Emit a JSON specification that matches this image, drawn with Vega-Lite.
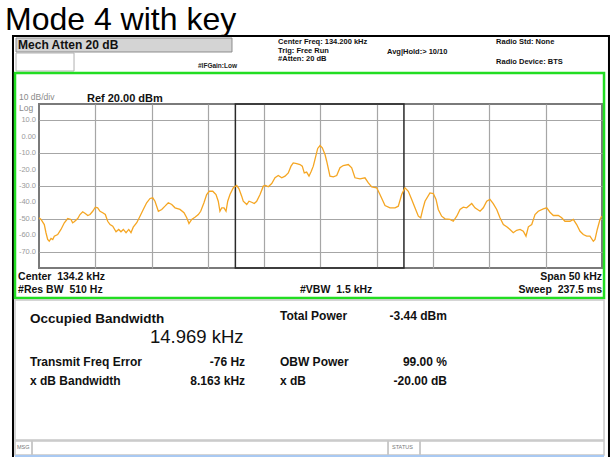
{
  "$schema": "https://vega.github.io/schema/vega-lite/v6.json",
  "width": 563,
  "height": 164,
  "autosize": {"type": "none"},
  "padding": {"left": 39, "top": 104, "right": 9, "bottom": 189},
  "background": "white",
  "config": {"view": {"stroke": "#7a7a7a", "strokeWidth": 2}, "font": "Liberation Sans"},
  "datasets": {
    "trace": [
      {"f":109.20,"v":-49.4},{"f":109.38,"v":-50.4},{"f":109.67,"v":-53.5},{"f":109.82,"v":-58.5},{"f":109.97,"v":-62.6},{"f":110.11,"v":-63.7},{"f":110.27,"v":-62.0},{"f":110.42,"v":-62.6},{"f":110.56,"v":-60.6},{"f":110.86,"v":-59.6},
      {"f":111.15,"v":-56.5},{"f":111.45,"v":-52.4},{"f":111.75,"v":-49.8},{"f":112.04,"v":-50.4},{"f":112.19,"v":-52.4},{"f":112.33,"v":-51.8},{"f":112.64,"v":-49.8},{"f":112.84,"v":-47.4},{"f":113.08,"v":-45.7},{"f":113.31,"v":-46.8},
      {"f":113.53,"v":-48.0},{"f":113.73,"v":-47.4},{"f":113.97,"v":-45.4},{"f":114.20,"v":-42.9},{"f":114.41,"v":-43.3},{"f":114.62,"v":-45.4},{"f":114.86,"v":-46.3},{"f":115.09,"v":-47.4},{"f":115.30,"v":-51.5},{"f":115.51,"v":-53.5},
      {"f":115.75,"v":-54.5},{"f":116.04,"v":-57.9},{"f":116.28,"v":-56.5},{"f":116.48,"v":-57.9},{"f":116.69,"v":-56.5},{"f":116.93,"v":-58.5},{"f":117.17,"v":-56.5},{"f":117.37,"v":-58.5},{"f":117.57,"v":-55.1},{"f":117.88,"v":-52.4},
      {"f":118.17,"v":-48.4},{"f":118.46,"v":-44.3},{"f":118.76,"v":-40.2},{"f":119.06,"v":-37.6},{"f":119.30,"v":-37.2},{"f":119.50,"v":-39.3},{"f":119.80,"v":-45.4},{"f":120.10,"v":-44.3},{"f":120.39,"v":-42.3},{"f":120.68,"v":-40.2},
      {"f":120.99,"v":-41.3},{"f":121.28,"v":-43.3},{"f":121.72,"v":-44.3},{"f":122.08,"v":-46.3},{"f":122.32,"v":-49.4},{"f":122.52,"v":-52.9},{"f":122.76,"v":-50.4},{"f":123.05,"v":-49.0},{"f":123.35,"v":-47.4},{"f":123.56,"v":-45.4},
      {"f":123.85,"v":-40.2},{"f":124.09,"v":-35.2},{"f":124.32,"v":-33.2},{"f":124.63,"v":-33.2},{"f":124.92,"v":-35.2},{"f":125.12,"v":-39.3},{"f":125.27,"v":-45.4},{"f":125.43,"v":-43.3},{"f":125.63,"v":-43.3},{"f":125.81,"v":-45.4},
      {"f":125.96,"v":-39.3},{"f":126.16,"v":-35.2},{"f":126.46,"v":-31.1},{"f":126.76,"v":-29.7},{"f":126.96,"v":-31.7},{"f":127.20,"v":-36.2},{"f":127.34,"v":-39.3},{"f":127.65,"v":-41.3},{"f":127.85,"v":-39.3},{"f":128.09,"v":-39.9},
      {"f":128.32,"v":-40.7},{"f":128.53,"v":-39.3},{"f":128.83,"v":-35.2},{"f":129.12,"v":-30.1},{"f":129.33,"v":-29.7},{"f":129.56,"v":-30.5},{"f":129.87,"v":-28.5},{"f":130.16,"v":-25.0},{"f":130.45,"v":-23.6},{"f":130.76,"v":-25.0},
      {"f":131.05,"v":-24.0},{"f":131.34,"v":-22.0},{"f":131.58,"v":-17.9},{"f":131.78,"v":-15.9},{"f":132.09,"v":-16.3},{"f":132.38,"v":-16.9},{"f":132.58,"v":-17.9},{"f":132.76,"v":-22.0},{"f":132.97,"v":-21.5},{"f":133.18,"v":-24.0},
      {"f":133.38,"v":-21.0},{"f":133.56,"v":-17.9},{"f":133.71,"v":-13.8},{"f":133.95,"v":-7.1},{"f":134.16,"v":-5.3},{"f":134.36,"v":-6.7},{"f":134.60,"v":-10.8},{"f":134.75,"v":-14.9},{"f":135.04,"v":-24.0},{"f":135.34,"v":-24.4},
      {"f":135.64,"v":-23.6},{"f":135.93,"v":-18.9},{"f":136.22,"v":-17.5},{"f":136.67,"v":-16.9},{"f":136.97,"v":-18.9},{"f":137.26,"v":-25.0},{"f":137.71,"v":-25.6},{"f":138.15,"v":-25.0},{"f":138.45,"v":-28.1},{"f":138.75,"v":-30.5},
      {"f":139.19,"v":-31.1},{"f":139.48,"v":-35.2},{"f":139.93,"v":-41.9},{"f":140.37,"v":-43.3},{"f":140.82,"v":-43.3},{"f":141.11,"v":-42.3},{"f":141.41,"v":-35.2},{"f":141.70,"v":-31.1},{"f":142.00,"v":-33.2},{"f":142.30,"v":-38.2},
      {"f":142.59,"v":-43.3},{"f":142.89,"v":-48.4},{"f":143.10,"v":-49.4},{"f":143.28,"v":-44.3},{"f":143.48,"v":-39.3},{"f":143.92,"v":-34.2},{"f":144.22,"v":-34.6},{"f":144.46,"v":-38.2},{"f":144.66,"v":-44.3},{"f":144.96,"v":-48.4},
      {"f":145.26,"v":-50.0},{"f":145.70,"v":-50.4},{"f":145.99,"v":-51.5},{"f":146.30,"v":-48.4},{"f":146.59,"v":-44.3},{"f":146.88,"v":-42.9},{"f":147.18,"v":-43.3},{"f":147.63,"v":-40.7},{"f":147.92,"v":-43.3},{"f":148.37,"v":-45.4},
      {"f":148.66,"v":-43.3},{"f":148.96,"v":-39.3},{"f":149.25,"v":-38.2},{"f":149.54,"v":-40.7},{"f":149.85,"v":-44.3},{"f":150.14,"v":-49.4},{"f":150.44,"v":-53.5},{"f":150.74,"v":-54.9},{"f":151.03,"v":-56.5},{"f":151.32,"v":-58.5},
      {"f":151.62,"v":-57.0},{"f":151.92,"v":-56.5},{"f":152.21,"v":-57.6},{"f":152.45,"v":-60.6},{"f":152.66,"v":-54.9},{"f":152.96,"v":-53.5},{"f":153.25,"v":-47.4},{"f":153.54,"v":-45.4},{"f":153.99,"v":-43.9},{"f":154.29,"v":-43.3},
      {"f":154.58,"v":-46.0},{"f":154.88,"v":-48.0},{"f":155.32,"v":-48.0},{"f":155.62,"v":-49.4},{"f":155.91,"v":-51.5},{"f":156.36,"v":-51.5},{"f":156.65,"v":-50.4},{"f":156.95,"v":-53.5},{"f":157.25,"v":-57.6},{"f":157.54,"v":-59.6},
      {"f":157.84,"v":-60.6},{"f":158.13,"v":-60.6},{"f":158.43,"v":-63.7},{"f":158.58,"v":-62.6},{"f":158.78,"v":-56.5},{"f":159.02,"v":-50.4},{"f":159.18,"v":-48.4}
    ],
    "boxes": [
      {"g":"outer","x1":106.89,"x2":159.82,"y1":61.46,"y2":-197.07},
      {"g":"mech","x1":107.16,"x2":126.34,"y1":60.24,"y2":51.71},
      {"g":"white","x1":107.16,"x2":112.31,"y1":51.10,"y2":40.12},
      {"g":"green","x1":107.07,"x2":159.38,"y1":38.90,"y2":-98.29},
      {"g":"panel","x1":107.07,"x2":159.38,"y1":-99.51,"y2":-184.88},
      {"g":"panel","x1":107.07,"x2":108.58,"y1":-185.49,"y2":-194.02},
      {"g":"panel","x1":108.58,"x2":140.20,"y1":-185.49,"y2":-194.02},
      {"g":"panel","x1":140.20,"x2":143.04,"y1":-185.49,"y2":-194.02},
      {"g":"panel","x1":143.04,"x2":159.38,"y1":-185.49,"y2":-194.02},
      {"g":"obw","x1":126.64,"x2":141.61,"y1":20,"y2":-80},
      {"g":"blue","x1":107.07,"x2":159.38,"y1":-194.63,"y2":-194.63}
    ],
    "ticks": [
      {"d":10,"lab":"10.0"},{"d":0,"lab":"0.00"},{"d":-10,"lab":"-10.0"},{"d":-20,"lab":"-20.0"},{"d":-30,"lab":"-30.0"},{"d":-40,"lab":"-40.0"},{"d":-50,"lab":"-50.0"},{"d":-60,"lab":"-60.0"},{"d":-70,"lab":"-70.0"}
    ],
    "notes": [
      {"g":"title","t":"Mode 4 with key","f":106.18,"v":65.12},
      {"g":"mech","t":"Mech Atten 20 dB","f":107.34,"v":53.54},
      {"g":"hdr","t":"Center Freq: 134.200 kHz","f":130.43,"v":56.3},
      {"g":"hdr","t":"Trig: Free Run","f":130.43,"v":51.4},
      {"g":"hdr","t":"#Atten: 20 dB","f":130.43,"v":46.5},
      {"g":"hdr","t":"Avg|Hold:> 10/10","f":140.11,"v":50.2},
      {"g":"hdr","t":"Radio Std: None","f":149.79,"v":56.3},
      {"g":"hdr","t":"Radio Device: BTS","f":149.79,"v":44.1},
      {"g":"ifg","t":"#IFGain:Low","f":123.32,"v":41.95},
      {"g":"gray","t":"10 dB/div","f":107.42,"v":22.2},
      {"g":"gray","t":"Log","f":107.42,"v":16.0},
      {"g":"ref","t":"Ref 20.00 dBm","f":113.46,"v":21.52},
      {"g":"ann","t":"Center\u00a0 134.2 kHz","f":107.34,"v":-87.32},
      {"g":"ann","t":"#Res BW\u00a0 510 Hz","f":107.34,"v":-95.24},
      {"g":"ann","t":"#VBW\u00a0 1.5 kHz","f":132.38,"v":-95.24},
      {"g":"annR","t":"Span 50 kHz","f":159.2,"v":-87.32},
      {"g":"annR","t":"Sweep\u00a0 237.5 ms","f":159.2,"v":-95.24},
      {"g":"obwl","t":"Occupied Bandwidth","f":108.40,"v":-113.54},
      {"g":"big","t":"14.969 kHz","f":119.06,"v":-125.73},
      {"g":"res","t":"Total Power","f":130.60,"v":-111.71},
      {"g":"res","t":"Transmit Freq Error","f":108.40,"v":-139.76},
      {"g":"res","t":"OBW Power","f":130.60,"v":-139.76},
      {"g":"res","t":"x dB Bandwidth","f":108.40,"v":-151.34},
      {"g":"res","t":"x dB","f":130.60,"v":-151.34},
      {"g":"resR","t":"-3.44 dBm","f":145.43,"v":-111.71},
      {"g":"resR","t":"-76 Hz","f":127.50,"v":-139.76},
      {"g":"resR","t":"99.00 %","f":145.43,"v":-139.76},
      {"g":"resR","t":"8.163 kHz","f":127.50,"v":-151.34},
      {"g":"resR","t":"-20.00 dB","f":145.43,"v":-151.34},
      {"g":"tiny","t":"MSG","f":107.25,"v":-190.37},
      {"g":"tiny","t":"STATUS","f":140.55,"v":-190.37}
    ]
  },
  "layer": [
    {
      "data": {"name": "boxes"},
      "transform": [{"filter": "datum.g == 'outer'"}],
      "mark": {"type": "rect", "fill": "transparent", "stroke": "#000000", "strokeWidth": 2},
      "encoding": {
        "x": {"field": "x1", "type": "quantitative", "title": null, "scale": {"domain": [109.2, 159.2], "nice": false, "zero": false},
              "axis": {"values": [114.2, 119.2, 124.2, 129.2, 134.2, 139.2, 144.2, 149.2, 154.2], "labels": false, "ticks": false, "domain": false, "grid": true, "gridColor": "#a6a6a6", "gridWidth": 1.2, "title": null}},
        "x2": {"field": "x2"},
        "y": {"field": "y1", "type": "quantitative", "title": null, "scale": {"domain": [-80, 20], "nice": false, "zero": false},
              "axis": {"values": [10, 0, -10, -20, -30, -40, -50, -60, -70], "labels": false, "ticks": false, "domain": false, "grid": true, "gridColor": "#a6a6a6", "gridWidth": 1.2, "title": null}},
        "y2": {"field": "y2"}
      }
    },
    {
      "data": {"name": "ticks"},
      "mark": {"type": "text", "align": "right", "baseline": "middle", "fontSize": 7.5, "font": "Liberation Sans", "color": "#9a9a9a", "dx": -3},
      "encoding": {
        "x": {"datum": 109.2, "type": "quantitative", "title": null, "scale": {"domain": [109.2, 159.2], "nice": false, "zero": false}},
        "y": {"field": "d", "type": "quantitative", "title": null, "scale": {"domain": [-80, 20], "nice": false, "zero": false}},
        "text": {"field": "lab"}
      }
    },
    {
      "data": {"name": "boxes"},
      "transform": [{"filter": "datum.g == 'mech'"}],
      "mark": {"type": "rect", "fill": "#d4d4d4", "stroke": "#8c8c8c", "strokeWidth": 1},
      "encoding": {
        "x": {"field": "x1", "type": "quantitative", "title": null, "scale": {"domain": [109.2, 159.2], "nice": false, "zero": false}},
        "x2": {"field": "x2"},
        "y": {"field": "y1", "type": "quantitative", "title": null, "scale": {"domain": [-80, 20], "nice": false, "zero": false}},
        "y2": {"field": "y2"}
      }
    },
    {
      "data": {"name": "boxes"},
      "transform": [{"filter": "datum.g == 'white'"}],
      "mark": {"type": "rect", "fill": "#ffffff", "stroke": "#b0b0b0", "strokeWidth": 1},
      "encoding": {
        "x": {"field": "x1", "type": "quantitative", "title": null, "scale": {"domain": [109.2, 159.2], "nice": false, "zero": false}},
        "x2": {"field": "x2"},
        "y": {"field": "y1", "type": "quantitative", "title": null, "scale": {"domain": [-80, 20], "nice": false, "zero": false}},
        "y2": {"field": "y2"}
      }
    },
    {
      "data": {"name": "boxes"},
      "transform": [{"filter": "datum.g == 'green'"}],
      "mark": {"type": "rect", "fill": "transparent", "stroke": "#22dd22", "strokeWidth": 2.5},
      "encoding": {
        "x": {"field": "x1", "type": "quantitative", "title": null, "scale": {"domain": [109.2, 159.2], "nice": false, "zero": false}},
        "x2": {"field": "x2"},
        "y": {"field": "y1", "type": "quantitative", "title": null, "scale": {"domain": [-80, 20], "nice": false, "zero": false}},
        "y2": {"field": "y2"}
      }
    },
    {
      "data": {"name": "boxes"},
      "transform": [{"filter": "datum.g == 'panel'"}],
      "mark": {"type": "rect", "fill": "transparent", "stroke": "#c8c8c8", "strokeWidth": 1.5},
      "encoding": {
        "x": {"field": "x1", "type": "quantitative", "title": null, "scale": {"domain": [109.2, 159.2], "nice": false, "zero": false}},
        "x2": {"field": "x2"},
        "y": {"field": "y1", "type": "quantitative", "title": null, "scale": {"domain": [-80, 20], "nice": false, "zero": false}},
        "y2": {"field": "y2"}
      }
    },
    {
      "data": {"name": "boxes"},
      "transform": [{"filter": "datum.g == 'blue'"}],
      "mark": {"type": "rule", "color": "#a9c9f2", "strokeWidth": 2},
      "encoding": {
        "x": {"field": "x1", "type": "quantitative", "title": null, "scale": {"domain": [109.2, 159.2], "nice": false, "zero": false}},
        "x2": {"field": "x2"},
        "y": {"field": "y1", "type": "quantitative", "title": null, "scale": {"domain": [-80, 20], "nice": false, "zero": false}}
      }
    },
    {
      "data": {"name": "boxes"},
      "transform": [{"filter": "datum.g == 'obw'"}],
      "mark": {"type": "rect", "fill": "transparent", "stroke": "#2a2a2a", "strokeWidth": 1.5},
      "encoding": {
        "x": {"field": "x1", "type": "quantitative", "title": null, "scale": {"domain": [109.2, 159.2], "nice": false, "zero": false}},
        "x2": {"field": "x2"},
        "y": {"field": "y1", "type": "quantitative", "title": null, "scale": {"domain": [-80, 20], "nice": false, "zero": false}},
        "y2": {"field": "y2"}
      }
    },
    {
      "data": {"name": "trace"},
      "mark": {"type": "line", "color": "#f5a623", "strokeWidth": 1.3, "interpolate": "linear"},
      "encoding": {
        "x": {"field": "f", "type": "quantitative", "title": null, "scale": {"domain": [109.2, 159.2], "nice": false, "zero": false}},
        "y": {"field": "v", "type": "quantitative", "title": null, "scale": {"domain": [-80, 20], "nice": false, "zero": false}}
      }
    },
    {
      "data": {"name": "notes"},
      "transform": [{"filter": "datum.g == 'title'"}],
      "mark": {"type": "text", "align": "left", "baseline": "alphabetic", "fontSize": 32, "font": "Liberation Sans", "color": "#000000"},
      "encoding": {
        "x": {"field": "f", "type": "quantitative", "title": null, "scale": {"domain": [109.2, 159.2], "nice": false, "zero": false}},
        "y": {"field": "v", "type": "quantitative", "title": null, "scale": {"domain": [-80, 20], "nice": false, "zero": false}},
        "text": {"field": "t"}
      }
    },
    {
      "data": {"name": "notes"},
      "transform": [{"filter": "datum.g == 'mech'"}],
      "mark": {"type": "text", "align": "left", "baseline": "alphabetic", "fontSize": 12, "fontWeight": "bold", "font": "Liberation Sans", "color": "#111111"},
      "encoding": {
        "x": {"field": "f", "type": "quantitative", "title": null, "scale": {"domain": [109.2, 159.2], "nice": false, "zero": false}},
        "y": {"field": "v", "type": "quantitative", "title": null, "scale": {"domain": [-80, 20], "nice": false, "zero": false}},
        "text": {"field": "t"}
      }
    },
    {
      "data": {"name": "notes"},
      "transform": [{"filter": "datum.g == 'hdr'"}],
      "mark": {"type": "text", "align": "left", "baseline": "alphabetic", "fontSize": 7.5, "fontWeight": "bold", "font": "Liberation Sans", "color": "#111111"},
      "encoding": {
        "x": {"field": "f", "type": "quantitative", "title": null, "scale": {"domain": [109.2, 159.2], "nice": false, "zero": false}},
        "y": {"field": "v", "type": "quantitative", "title": null, "scale": {"domain": [-80, 20], "nice": false, "zero": false}},
        "text": {"field": "t"}
      }
    },
    {
      "data": {"name": "notes"},
      "transform": [{"filter": "datum.g == 'ifg'"}],
      "mark": {"type": "text", "align": "left", "baseline": "alphabetic", "fontSize": 6.5, "fontWeight": "bold", "font": "Liberation Sans", "color": "#222222"},
      "encoding": {
        "x": {"field": "f", "type": "quantitative", "title": null, "scale": {"domain": [109.2, 159.2], "nice": false, "zero": false}},
        "y": {"field": "v", "type": "quantitative", "title": null, "scale": {"domain": [-80, 20], "nice": false, "zero": false}},
        "text": {"field": "t"}
      }
    },
    {
      "data": {"name": "notes"},
      "transform": [{"filter": "datum.g == 'gray'"}],
      "mark": {"type": "text", "align": "left", "baseline": "alphabetic", "fontSize": 8.5, "font": "Liberation Sans", "color": "#8a8a8a"},
      "encoding": {
        "x": {"field": "f", "type": "quantitative", "title": null, "scale": {"domain": [109.2, 159.2], "nice": false, "zero": false}},
        "y": {"field": "v", "type": "quantitative", "title": null, "scale": {"domain": [-80, 20], "nice": false, "zero": false}},
        "text": {"field": "t"}
      }
    },
    {
      "data": {"name": "notes"},
      "transform": [{"filter": "datum.g == 'ref'"}],
      "mark": {"type": "text", "align": "left", "baseline": "alphabetic", "fontSize": 11, "fontWeight": "bold", "font": "Liberation Sans", "color": "#111111"},
      "encoding": {
        "x": {"field": "f", "type": "quantitative", "title": null, "scale": {"domain": [109.2, 159.2], "nice": false, "zero": false}},
        "y": {"field": "v", "type": "quantitative", "title": null, "scale": {"domain": [-80, 20], "nice": false, "zero": false}},
        "text": {"field": "t"}
      }
    },
    {
      "data": {"name": "notes"},
      "transform": [{"filter": "datum.g == 'ann'"}],
      "mark": {"type": "text", "align": "left", "baseline": "alphabetic", "fontSize": 10.5, "fontWeight": "bold", "font": "Liberation Sans", "color": "#111111"},
      "encoding": {
        "x": {"field": "f", "type": "quantitative", "title": null, "scale": {"domain": [109.2, 159.2], "nice": false, "zero": false}},
        "y": {"field": "v", "type": "quantitative", "title": null, "scale": {"domain": [-80, 20], "nice": false, "zero": false}},
        "text": {"field": "t"}
      }
    },
    {
      "data": {"name": "notes"},
      "transform": [{"filter": "datum.g == 'annR'"}],
      "mark": {"type": "text", "align": "right", "baseline": "alphabetic", "fontSize": 10.5, "fontWeight": "bold", "font": "Liberation Sans", "color": "#111111"},
      "encoding": {
        "x": {"field": "f", "type": "quantitative", "title": null, "scale": {"domain": [109.2, 159.2], "nice": false, "zero": false}},
        "y": {"field": "v", "type": "quantitative", "title": null, "scale": {"domain": [-80, 20], "nice": false, "zero": false}},
        "text": {"field": "t"}
      }
    },
    {
      "data": {"name": "notes"},
      "transform": [{"filter": "datum.g == 'obwl'"}],
      "mark": {"type": "text", "align": "left", "baseline": "alphabetic", "fontSize": 13.5, "fontWeight": "bold", "font": "Liberation Sans", "color": "#111111"},
      "encoding": {
        "x": {"field": "f", "type": "quantitative", "title": null, "scale": {"domain": [109.2, 159.2], "nice": false, "zero": false}},
        "y": {"field": "v", "type": "quantitative", "title": null, "scale": {"domain": [-80, 20], "nice": false, "zero": false}},
        "text": {"field": "t"}
      }
    },
    {
      "data": {"name": "notes"},
      "transform": [{"filter": "datum.g == 'big'"}],
      "mark": {"type": "text", "align": "left", "baseline": "alphabetic", "fontSize": 18.5, "font": "Liberation Sans", "color": "#111111"},
      "encoding": {
        "x": {"field": "f", "type": "quantitative", "title": null, "scale": {"domain": [109.2, 159.2], "nice": false, "zero": false}},
        "y": {"field": "v", "type": "quantitative", "title": null, "scale": {"domain": [-80, 20], "nice": false, "zero": false}},
        "text": {"field": "t"}
      }
    },
    {
      "data": {"name": "notes"},
      "transform": [{"filter": "datum.g == 'res'"}],
      "mark": {"type": "text", "align": "left", "baseline": "alphabetic", "fontSize": 12, "fontWeight": "bold", "font": "Liberation Sans", "color": "#111111"},
      "encoding": {
        "x": {"field": "f", "type": "quantitative", "title": null, "scale": {"domain": [109.2, 159.2], "nice": false, "zero": false}},
        "y": {"field": "v", "type": "quantitative", "title": null, "scale": {"domain": [-80, 20], "nice": false, "zero": false}},
        "text": {"field": "t"}
      }
    },
    {
      "data": {"name": "notes"},
      "transform": [{"filter": "datum.g == 'resR'"}],
      "mark": {"type": "text", "align": "right", "baseline": "alphabetic", "fontSize": 12, "fontWeight": "bold", "font": "Liberation Sans", "color": "#111111"},
      "encoding": {
        "x": {"field": "f", "type": "quantitative", "title": null, "scale": {"domain": [109.2, 159.2], "nice": false, "zero": false}},
        "y": {"field": "v", "type": "quantitative", "title": null, "scale": {"domain": [-80, 20], "nice": false, "zero": false}},
        "text": {"field": "t"}
      }
    },
    {
      "data": {"name": "notes"},
      "transform": [{"filter": "datum.g == 'tiny'"}],
      "mark": {"type": "text", "align": "left", "baseline": "alphabetic", "fontSize": 5.5, "font": "Liberation Sans", "color": "#777777"},
      "encoding": {
        "x": {"field": "f", "type": "quantitative", "title": null, "scale": {"domain": [109.2, 159.2], "nice": false, "zero": false}},
        "y": {"field": "v", "type": "quantitative", "title": null, "scale": {"domain": [-80, 20], "nice": false, "zero": false}},
        "text": {"field": "t"}
      }
    }
  ]
}
